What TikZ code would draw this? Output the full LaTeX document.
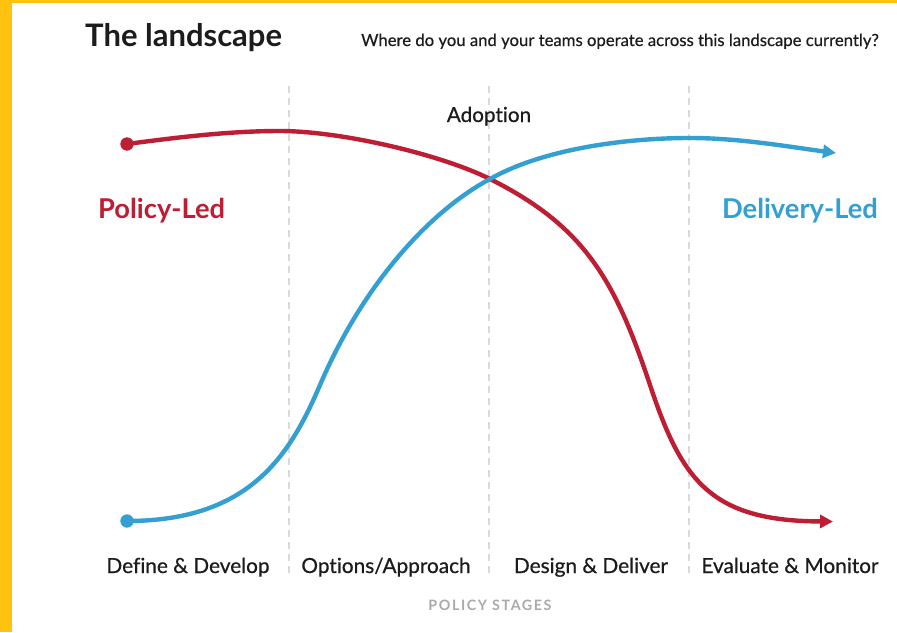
\documentclass[tikz,border=0pt]{standalone}
\usepackage{fontspec}
\setmainfont{Lato}[Ligatures={TeX,NoCommon}]
\usetikzlibrary{arrows.meta}
\definecolor{ylw}{RGB}{255,194,14}
\definecolor{redc}{RGB}{190,30,52}
\definecolor{bluec}{RGB}{52,160,210}
\definecolor{darktext}{RGB}{28,28,28}
\definecolor{greytext}{RGB}{170,170,170}
\definecolor{dashgrey}{RGB}{218,218,218}
\begin{document}
\begin{tikzpicture}[x=1pt,y=-1pt,
  divider/.style={draw=dashgrey,line width=1.3pt,dash pattern=on 7pt off 5pt},
  curve/.style={line width=4.4pt,-{Triangle[length=13pt,width=13pt]}},
  stagelabel/.style={anchor=base,text=darktext,font=\fontsize{20.8}{23}\selectfont\addfontfeatures{FakeBold=0.6},inner sep=0pt},
  bigtitle/.style={anchor=base west,text=darktext,font=\bfseries\fontsize{31}{34}\selectfont,inner sep=0pt},
  sidelabel/.style={inner sep=0pt,font=\bfseries\fontsize{27.3}{30}\selectfont}]
\useasboundingbox (0,0) rectangle (897,632);
\fill[white] (0,0) rectangle (897,632);
\fill[ylw] (0,0) rectangle (12,632);
\fill[ylw] (0,0) rectangle (897,3);
% dividers
\foreach \xx/\nm in {289/d1,489/d2,689/d3}{
  \coordinate (\nm top) at (\xx,86);
  \coordinate (\nm bot) at (\xx,577);
  \draw[divider] (\nm top) -- (\nm bot);
}
% titles
\node[bigtitle] (title) at (85,46) {The landscape};
\node[anchor=base east,inner sep=0pt,text=darktext,font=\fontsize{16.7}{18}\selectfont\addfontfeatures{FakeBold=0.5}] (question) at (879,46) {Where do you and your teams operate across this landscape currently?};
\node[anchor=base,inner sep=0pt,text=darktext,font=\fontsize{20.7}{23}\selectfont\addfontfeatures{FakeBold=0.6}] (adoption) at (489,122) {Adoption};
\node[sidelabel,anchor=base west,text=redc] (policy) at (98,218) {Policy-Led};
\node[sidelabel,anchor=base east,text=bluec] (delivery) at (878,218) {Delivery-Led};
% curves
\coordinate (redstart) at (127,144);
\coordinate (redpeak) at (280,131);
\coordinate (cross) at (490,179);
\coordinate (redinfl) at (650,385);
\coordinate (redend) at (833,521.5);
\coordinate (bluestart) at (127,521);
\coordinate (blueinfl) at (320,385);
\coordinate (bluepeak) at (690,138);
\coordinate (blueend) at (836,153);
\draw[curve,draw=redc,color=redc] (redstart)
  .. controls (180,137) and (230,131) .. (redpeak)
  .. controls (340,131) and (440,154) .. (cross)
  .. controls (585,226.5) and (615.2,280.6) .. (redinfl)
  .. controls (681.6,479.9) and (710,521) .. (redend);
\draw[curve,draw=bluec,color=bluec] (bluestart)
  .. controls (250,521) and (290,455) .. (blueinfl)
  .. controls (363.3,283.9) and (430,211) .. (cross)
  .. controls (540,150.5) and (620,138) .. (bluepeak)
  .. controls (740,138) and (790,147) .. (blueend);
\fill[redc] (redstart) circle (6.7);
\fill[bluec] (bluestart) circle (6.7);
% stage labels
\node[stagelabel] (s1) at (188,573) {Define \& Develop};
\node[stagelabel] (s2) at (386,573) {Options/Approach};
\node[stagelabel] (s3) at (591,573) {Design \& Deliver};
\node[stagelabel] (s4) at (790,573) {Evaluate \& Monitor};
\node[anchor=base,inner sep=0pt,text=greytext,font=\bfseries\fontsize{14.3}{16}\selectfont\addfontfeatures{LetterSpace=11}] (stages) at (490,610) {POLICY STAGES};
\end{tikzpicture}
\end{document}
